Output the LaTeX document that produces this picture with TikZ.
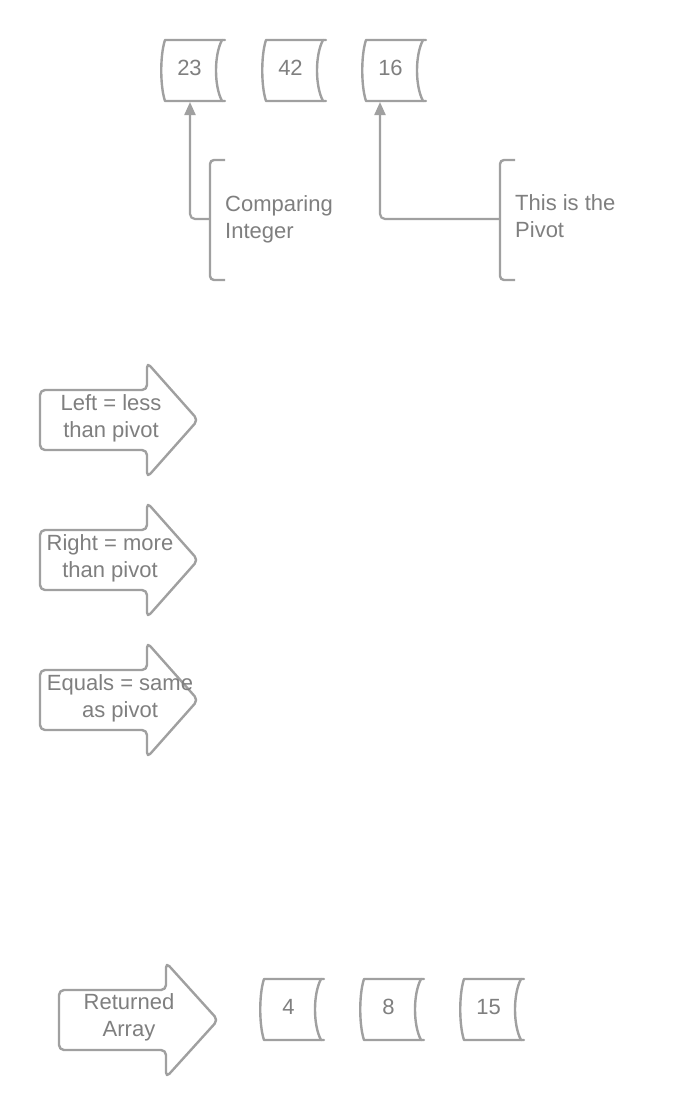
\documentclass[tikz,border=0pt]{standalone}
\usepackage{fontspec}
\setmainfont{Liberation Sans}
\usetikzlibrary{arrows.meta}
\definecolor{ln}{HTML}{A0A0A0}
\definecolor{tx}{HTML}{7F7F7F}
\begin{document}
\begin{tikzpicture}[x=1pt,y=-1pt,
  shapeline/.style={draw=ln,line width=2.4pt,line join=round,line cap=round},
  lbl/.style={text=tx,font=\fontsize{22}{27}\selectfont,inner sep=0pt},
  conn/.style={draw=ln,line width=2.2pt,rounded corners=5pt,-{Triangle[width=11pt,length=13pt]}},
  brk/.style={draw=ln,line width=2.4pt,rounded corners=4pt}]
\useasboundingbox (0,0) rectangle (700,1120);
\fill[white] (0,0) rectangle (700,1120);
% cells
\newcommand\cellbox[4]{%
  \begin{scope}[shift={(#2,#3)}]
    \draw[shapeline] (66,0) -- (6,0) .. controls (1,15) and (1,46) .. (6,61) -- (66,61);
    \draw[shapeline] (63,0) .. controls (55,15) and (55,46) .. (63,61);
    \node[lbl] (#1) at (30.5,28) {#4};
  \end{scope}}
\cellbox{c23}{159}{40}{23}
\cellbox{c42}{260}{40}{42}
\cellbox{c16}{360}{40}{16}
\cellbox{c4}{258}{979}{4}
\cellbox{c8}{358}{979}{8}
\cellbox{c15}{458}{979}{15}
\coordinate (c23b) at (190,102);
\coordinate (c16b) at (380,102);
% brackets
\draw[brk] (225,160) -- (210,160) -- (210,280) -- (225,280);
\draw[brk] (515,160) -- (500,160) -- (500,280) -- (515,280);
\coordinate (br1) at (210,219);
\coordinate (br2) at (500,219);
\node[lbl,anchor=west,align=left] (t1) at (225,219) {Comparing\\Integer};
\node[lbl,anchor=west,align=left] (t2) at (515,216) {This is the\\Pivot};
\draw[conn] (br1) -| (c23b);
\draw[conn] (br2) -| (c16b);
% block arrows
\newcommand\blockarrow[7]{% name, left, headbase, tip, center y, text x, text dy
  \draw[shapeline,rounded corners=5pt] (#2,#5-30) -- (#3,#5-30) -- (#3,#5-57.5) -- (#4,#5) -- (#3,#5+57.5) -- (#3,#5+30) -- (#2,#5+30) -- cycle;
  \node[lbl,align=center] (#1) at (#6,#5+#7) {\csname bt#1\endcsname};}
\newcommand\btaone{Left = less\\than pivot}
\newcommand\btatwo{Right = more\\than pivot}
\newcommand\btathree{Equals = same\\as pivot}
\newcommand\btafour{Returned\\Array}
\blockarrow{aone}{40}{147}{198}{420}{111}{-1.5}
\blockarrow{atwo}{40}{147}{198}{560}{110}{-1.5}
\blockarrow{athree}{40}{147}{198}{700}{120}{-1.5}
\blockarrow{afour}{59}{166}{218}{1020}{129}{-2.5}
\end{tikzpicture}
\end{document}
